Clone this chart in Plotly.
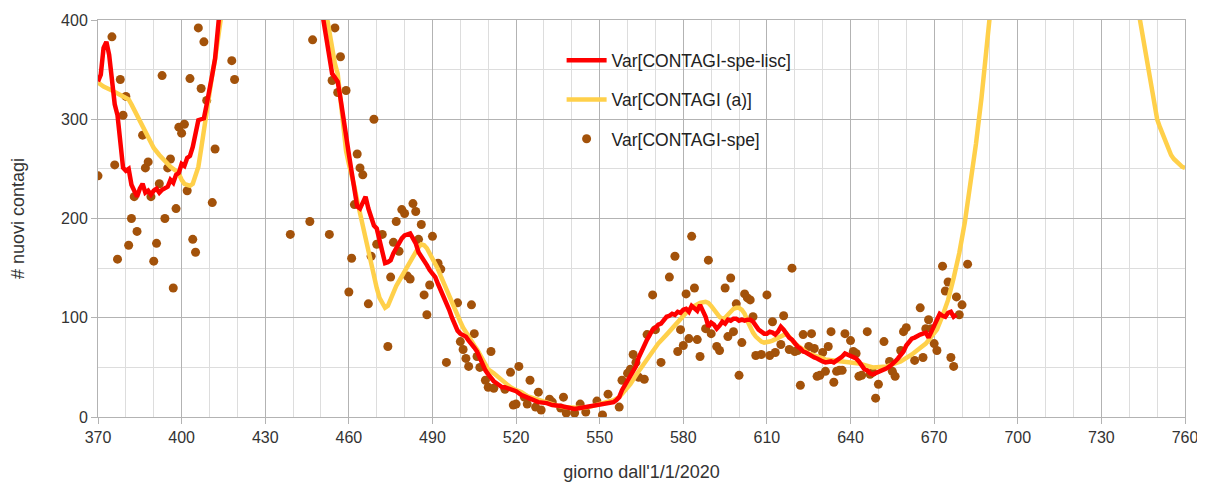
import plotly.graph_objects as go

# ---- data: Var[CONTAGI-spe] (daily points) ----
spe_days = [370, 375, 376, 377, 378, 379, 380, 381, 382, 383, 384, 386, 387, 388, 389, 390, 391, 392, 393, 394,
            395, 396, 397, 398, 399, 400, 401, 402, 403, 404, 405, 406, 407, 408, 409, 411, 412, 418, 419,
            439, 446, 447, 453, 454, 455, 456, 457, 459, 460, 461, 462, 463, 464, 465, 467, 468, 469, 470,
            472, 474, 475, 476, 477, 478, 479, 480, 481, 482, 483, 484, 485, 486, 487, 488, 489, 490, 492,
            493, 495, 499, 500, 501, 502, 503, 504, 505, 506, 507, 509, 510, 511, 512, 516, 518, 519, 520,
            521, 523, 524, 525, 527, 528, 529, 532, 533, 536, 537, 538, 541, 543, 545, 549, 551, 553, 557,
            558, 560, 561, 562, 563, 564, 566, 567, 569, 570, 572, 575, 577, 578, 579, 580, 581, 582, 583,
            584, 585, 586, 588, 589, 590, 592, 593, 595, 596, 597, 598, 599, 600, 601, 602, 603, 604, 605,
            606, 608, 610, 611, 612, 613, 615, 616, 618, 619, 620, 621, 622, 623, 625, 626, 627, 628, 629,
            630, 631, 632, 633, 634, 635, 636, 637, 638, 640, 641, 642, 643, 644, 646, 647, 648, 649, 650,
            652, 654, 655, 656, 658, 659, 660, 663, 665, 666, 667, 668, 669, 670, 671, 673, 674, 675, 676,
            677, 678, 679, 680, 682]
spe_vals = [243, 383, 254, 159, 340, 304, 323, 173, 200, 222, 187, 284, 251, 257, 222, 157, 175, 235, 344, 200,
            251, 260, 130, 210, 292, 286, 295, 228, 341, 179, 166, 392, 331, 378, 319, 216, 270, 359, 340,
            184, 197, 380, 184, 339, 392, 327, 363, 329, 126, 160, 214, 265, 251, 244, 114, 162, 300, 174,
            184, 71, 141, 176, 197, 167, 209, 205, 142, 139, 215, 207, 179, 194, 123, 103, 133, 182, 155,
            149, 55, 115, 76, 68, 59, 51, 113, 84, 61, 50, 37, 30, 66, 29, 28, 45, 12, 13,
            51, 20, 13, 37, 10, 25, 7, 18, 15, 9, 20, 4, 4, 13, 5, 16, 2, 23, 10,
            37, 44, 48, 63, 55, 40, 38, 83, 123, 88, 55, 141, 162, 66, 88, 72, 124, 79, 182,
            130, 78, 61, 89, 158, 84, 71, 67, 130, 81, 140, 86, 114, 42, 75, 124, 120, 118, 101,
            62, 63, 123, 62, 96, 65, 73, 102, 68, 150, 66, 67, 32, 83, 71, 84, 69, 41, 42,
            65, 46, 71, 86, 35, 46, 47, 47, 84, 77, 66, 64, 41, 42, 86, 43, 45, 19, 33,
            76, 56, 46, 41, 67, 86, 90, 57, 110, 60, 89, 98, 89, 74, 67, 152, 127, 136, 60,
            51, 121, 103, 113, 154]

# ---- data: Var[CONTAGI-spe-lisc] (smoothed) ----
lisc_days = [370, 371, 372, 373, 374, 375, 376, 377, 378, 379, 380, 381, 382, 383, 384, 385, 386, 387, 388, 389,
             390, 391, 392, 393, 394, 395, 396, 397, 398, 399, 400, 401, 402, 403, 404, 405, 406, 407, 408, 409,
             410, 411, 412, 413, 414, 418, 425, 435, 445, 450, 451, 452, 453, 454, 455, 456, 457, 458, 459, 460,
             461, 462, 463, 464, 465, 466, 467, 468, 469, 470, 471, 472, 473, 474, 475, 476, 477, 478, 479, 480,
             481, 482, 483, 484, 485, 486, 487, 488, 489, 490, 491, 492, 493, 494, 495, 496, 497, 498, 499, 500,
             501, 502, 503, 504, 505, 506, 507, 508, 509, 510, 511, 512, 513, 514, 515, 516, 518, 520, 522, 524,
             526, 528, 531, 533, 536, 539, 541, 543, 545, 547, 549, 551, 553, 555, 556, 557, 558, 559, 560, 561,
             562, 563, 564, 565, 566, 567, 568, 569, 570, 571, 572, 573, 574, 575, 576, 577, 578, 579, 580, 581,
             582, 583, 584, 585, 586, 587, 588, 589, 590, 591, 592, 593, 594, 595, 596, 597, 598, 599, 600, 601,
             602, 603, 604, 605, 606, 607, 608, 609, 610, 611, 612, 613, 614, 615, 616, 617, 618, 619, 620, 621,
             622, 623, 624, 625, 626, 627, 628, 629, 630, 631, 632, 633, 634, 635, 636, 637, 638, 639, 640, 641,
             642, 643, 644, 645, 646, 647, 648, 649, 650, 651, 652, 653, 654, 655, 656, 657, 658, 659, 660, 661,
             662, 663, 664, 665, 666, 667, 668, 669, 670, 671, 672, 673, 674, 675, 676, 677, 678]
lisc_vals = [338, 345, 372, 378, 365, 340, 315, 304, 275, 251, 248, 250, 234, 228, 222, 230, 235, 226, 228, 224,
             228, 230, 226, 229, 231, 232, 239, 236, 244, 246, 255, 253, 261, 263, 272, 285, 299, 300, 301, 315,
             328, 345, 361, 398, 420, 520, 600, 620, 520, 415, 398, 380, 368, 346, 342, 338, 321, 300, 280, 265,
             247, 228, 212, 210, 216, 222, 210, 200, 193, 190, 178, 170, 155, 156, 158, 165, 170, 177, 180, 183,
             184, 185, 180, 175, 166, 162, 158, 153, 148, 145, 141, 134, 128, 122, 116, 108, 100, 94, 87, 84,
             82, 81, 77, 74, 70, 66, 60, 52, 47, 43, 39, 36, 34, 32, 30, 30, 28, 26, 22, 20,
             17, 15, 14, 12, 11, 9, 8, 9, 10, 11, 13, 14, 14, 15, 17, 20, 27, 32, 37, 41,
             45, 51, 60, 66, 74, 78, 83, 88, 90, 93, 94, 98, 101, 102, 104, 103, 106, 105, 108, 109,
             106, 112, 110, 107, 113, 108, 101, 91, 95, 93, 89, 92, 96, 94, 98, 97, 99, 99, 97, 98,
             97, 98, 98, 96, 92, 88, 86, 84, 84, 86, 85, 83, 86, 91, 88, 83, 80, 78, 74, 71,
             69, 66, 65, 63, 62, 60, 59, 57, 56, 55, 56, 56, 55, 57, 58, 61, 64, 63, 61, 61,
             59, 56, 52, 48, 47, 44, 43, 44, 45, 46, 48, 49, 51, 53, 56, 59, 62, 66, 72, 76,
             79, 80, 82, 83, 84, 85, 80, 86, 94, 100, 104, 102, 101, 105, 106, 101, 103]

# ---- data: Var[CONTAGI (a)] ----
a_days = [370, 372, 375, 378, 381, 382, 384, 386, 388, 390, 392, 394, 396, 398, 399, 400, 401, 402, 403, 404,
          405, 406, 407, 408, 409, 410, 411, 412, 413, 414, 416, 420, 430, 440, 448, 451, 452, 453, 454, 455,
          456, 457, 458, 459, 460, 461, 462, 463, 464, 465, 466, 467, 468, 469, 470, 471, 472, 473, 474, 475,
          476, 477, 478, 479, 480, 481, 482, 483, 484, 485, 486, 487, 488, 489, 490, 491, 492, 493, 494, 495,
          496, 497, 498, 499, 500, 501, 502, 503, 504, 505, 506, 507, 508, 510, 512, 514, 516, 518, 520, 522,
          524, 526, 528, 531, 534, 537, 540, 543, 546, 549, 552, 555, 557, 559, 561, 563, 565, 567, 569, 571,
          574, 576, 578, 580, 582, 584, 586, 588, 589, 590, 591, 592, 593, 594, 595, 596, 597, 598, 599, 600,
          601, 602, 603, 604, 605, 606, 607, 608, 609, 610, 611, 612, 614, 617, 620, 622, 625, 631, 637, 643,
          648, 653, 658, 662, 667, 671, 673, 675, 677, 679, 681, 683, 685, 687, 688, 689, 690, 695, 705, 720,
          735, 742, 744, 745, 746, 747, 748, 749, 750, 751, 752, 753, 754, 755, 756, 757, 758, 759, 760]
a_vals = [337, 333, 329, 325, 320, 315, 304, 292, 280, 271, 264, 258, 252, 248, 245, 239, 235, 234, 233, 235,
          242, 252, 270, 290, 310, 328, 345, 360, 378, 398, 440, 520, 620, 580, 470, 420, 402, 385, 370, 356,
          346, 318, 290, 268, 255, 245, 232, 218, 205, 193, 182, 170, 156, 142, 130, 120, 114, 110, 112, 119,
          126, 132, 137, 142, 147, 152, 157, 162, 167, 171, 174, 173, 170, 165, 160, 155, 149, 142, 135, 128,
          121, 114, 108, 102, 96, 90, 85, 80, 76, 72, 68, 63, 57, 48, 44, 39, 34, 30, 27, 25,
          21, 19, 17, 14, 12, 10, 9, 9, 10, 12, 14, 17, 20, 26, 33, 42, 50, 59, 67, 74,
          83, 89, 96, 102, 108, 112, 115, 116, 115, 112, 108, 105, 101, 99, 100, 103, 106, 109, 110, 110,
          108, 104, 97, 90, 85, 81, 78, 76, 75, 75, 76, 77, 80, 84, 74, 70, 64, 58, 56, 54,
          50, 51, 56, 63, 74, 88, 102, 118, 140, 165, 196, 232, 275, 322, 350, 380, 405, 500, 650, 700,
          600, 430, 398, 380, 365, 345, 328, 313, 300, 292, 285, 277, 270, 264, 260, 257, 254, 252, 251]

x_ticks = [370, 400, 430, 460, 490, 520, 550, 580, 610, 640, 670, 700, 730, 760]
y_ticks = [0, 100, 200, 300, 400]

FONT = "Liberation Sans, Arial, sans-serif"

fig = go.Figure()
fig.add_trace(go.Scatter(x=spe_days, y=spe_vals, mode="markers", name="Var[CONTAGI-spe]",
                         marker=dict(color="#a3520a", size=9), legendgroup="c", legendrank=3))
fig.add_trace(go.Scatter(x=a_days, y=a_vals, mode="lines", name="Var[CONTAGI (a)]",
                         line=dict(color="#ffd04a", width=4.5), legendgroup="b", legendrank=2))
fig.add_trace(go.Scatter(x=lisc_days, y=lisc_vals, mode="lines", name="Var[CONTAGI-spe-lisc]",
                         line=dict(color="#ff0000", width=4.5), legendgroup="a", legendrank=1))

fig.add_shape(type="rect", xref="paper", yref="paper", x0=0.3947, x1=0.6753, y0=0.647, y1=0.967,
              fillcolor="white", line=dict(width=0), layer="between")

fig.update_layout(
    width=1197, height=474,
    margin=dict(l=90, r=20, t=12, b=65),
    paper_bgcolor="white", plot_bgcolor="white",
    font=dict(family=FONT, size=16, color="#333333"),
    showlegend=True,
    legend=dict(x=0.4265, y=0.9435, xanchor="left", yanchor="top", bgcolor="rgba(0,0,0,0)",
                font=dict(family=FONT, size=17.5, color="#222222"), traceorder="grouped",
                tracegroupgap=13.5, itemwidth=40),
    xaxis=dict(range=[370, 760], tickvals=x_ticks, ticks="outside", ticklen=6, tickcolor="#b3b3b3",
               showgrid=True, gridcolor="#b3b3b3", gridwidth=1, zeroline=False,
               showline=True, linecolor="#b3b3b3", mirror=True,
               minor=dict(dtick=10, tick0=370, showgrid=True, gridcolor="#dddddd", ticks=""),
               title=dict(text="giorno dall'1/1/2020", standoff=24, font=dict(size=18)),
               automargin=False, tickfont=dict(size=16)),
    yaxis=dict(range=[0, 400], tickvals=y_ticks, ticks="outside", ticklen=6, tickcolor="#b3b3b3",
               showgrid=True, gridcolor="#b3b3b3", gridwidth=1, zeroline=False,
               showline=True, linecolor="#b3b3b3", mirror=True,
               minor=dict(dtick=50, showgrid=True, gridcolor="#dddddd", ticks=""),
               title=dict(text="# nuovi contagi", standoff=38, font=dict(size=18)),
               automargin=False, tickfont=dict(size=16)),
)

fig.write_html("out.html")
